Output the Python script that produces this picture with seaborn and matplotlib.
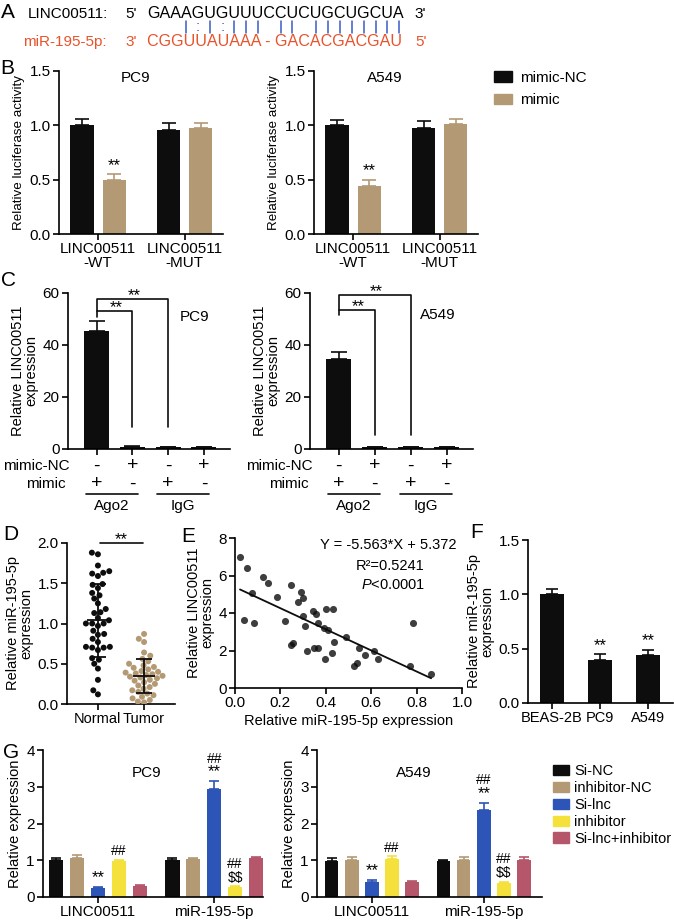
import numpy as np
import pandas as pd
import matplotlib
matplotlib.use("Agg")
import matplotlib.pyplot as plt
import matplotlib.transforms as mtrans
from matplotlib.patches import Patch
from matplotlib.lines import Line2D
from matplotlib.ticker import FormatStrFormatter
from matplotlib.textpath import TextToPath
from matplotlib.font_manager import FontProperties
import seaborn as sns

sns.set_style("ticks")
plt.rcParams["font.family"] = ["Liberation Sans", "DejaVu Sans"]
plt.rcParams.update({
    "text.color": "black", "axes.labelcolor": "black",
    "xtick.color": "black", "ytick.color": "black", "axes.edgecolor": "black",
    "axes.linewidth": 1.2, "xtick.major.width": 1.2, "ytick.major.width": 1.2,
    "xtick.major.size": 4, "ytick.major.size": 4,
    "xtick.labelsize": 11, "ytick.labelsize": 11, "axes.labelsize": 10.5,
    "xtick.major.pad": 2, "ytick.major.pad": 2, "axes.labelpad": 3,
    "mathtext.fontset": "custom", "mathtext.rm": "Liberation Sans",
    "mathtext.it": "Liberation Sans:italic",
})

BLACK = "#0d0d0d"
TAN = "#b39a74"
BLUE = "#2d55b8"
YELLOW = "#f4e13c"
ROSE = "#b5566a"
ORANGE = "#e8532b"
LINK = "#3b5bc4"

# ---- data ----
# A: binding site
linc_seq = "GAAAGUGUUUCCUCUGCUGCUA"
mir_seq = "CGGUUAUAAA - GACACGACGAU"
pair_marks = "   |:|:||| || ||||||||"

# B: luciferase
b_groups = ["LINC00511\n-WT", "LINC00511\n-MUT"]
b_treat = ["mimic-NC", "mimic"]
b_pc9 = [[1.00, 0.50], [0.96, 0.98]]
b_pc9_err = [[0.06, 0.05], [0.06, 0.04]]
b_a549 = [[1.00, 0.44], [0.98, 1.01]]
b_a549_err = [[0.05, 0.06], [0.06, 0.05]]

# C: RIP
c_conditions = ["Ago2 mimic", "Ago2 mimic-NC", "IgG mimic", "IgG mimic-NC"]
c_nc_row = ["-", "+", "-", "+"]
c_mimic_row = ["+", "-", "+", "-"]
c_pc9 = [45.3, 0.8, 0.7, 0.7]
c_pc9_err = [3.8, 0.2, 0.2, 0.2]
c_a549 = [34.6, 0.7, 0.7, 0.6]
c_a549_err = [2.7, 0.2, 0.2, 0.2]

# D: tissue expression
d_normal = [1.88, 1.86, 1.72, 1.65, 1.63, 1.62, 1.59, 1.49, 1.48, 1.44, 1.38, 1.35,
            1.31, 1.25, 1.18, 1.14, 1.13, 1.07, 1.04, 1.0, 1.0, 1.0, 0.97, 0.91,
            0.87, 0.86, 0.81, 0.77, 0.71, 0.71, 0.70, 0.70, 0.67, 0.57, 0.55, 0.50,
            0.44, 0.30, 0.17, 0.12]
d_tumor = [0.87, 0.81, 0.77, 0.64, 0.60, 0.56, 0.53, 0.50, 0.48, 0.46, 0.45, 0.43,
           0.41, 0.40, 0.39, 0.38, 0.37, 0.36, 0.35, 0.34, 0.33, 0.32, 0.30, 0.29,
           0.27, 0.25, 0.23, 0.21, 0.19, 0.17, 0.15, 0.13, 0.11, 0.09, 0.07, 0.05,
           0.03, 0.02]

# E: correlation
e_x = [0.022, 0.054, 0.125, 0.145, 0.246, 0.29, 0.30, 0.277, 0.075, 0.184,
       0.04, 0.085, 0.22, 0.30, 0.31, 0.343, 0.356, 0.40, 0.43, 0.365,
       0.39, 0.41, 0.246, 0.256, 0.318, 0.35, 0.365, 0.397, 0.428, 0.436,
       0.49, 0.547, 0.574, 0.524, 0.537, 0.613, 0.63, 0.771, 0.784, 0.864]
e_y = [6.99, 6.4, 5.9, 5.6, 5.5, 5.12, 4.8, 4.6, 5.06, 4.84,
       3.63, 3.47, 3.57, 3.84, 3.3, 4.1, 3.95, 4.2, 4.2, 3.47,
       3.2, 3.1, 2.28, 2.4, 1.97, 2.13, 2.13, 1.55, 1.87, 2.45,
       2.72, 2.13, 1.76, 1.17, 1.33, 1.97, 1.55, 1.17, 3.47, 0.75]

# F: cell lines
f_cells = ["BEAS-2B", "PC9", "A549"]
f_vals = [1.00, 0.40, 0.44]
f_err = [0.05, 0.05, 0.05]

# G: rescue
g_genes = ["LINC00511", "miR-195-5p"]
g_groups = ["Si-NC", "inhibitor-NC", "Si-lnc", "inhibitor", "Si-lnc+inhibitor"]
g_pc9 = [[1.00, 1.05, 0.25, 0.98, 0.29], [1.00, 1.03, 2.94, 0.27, 1.05]]
g_pc9_err = [[0.06, 0.09, 0.03, 0.04, 0.03], [0.07, 0.02, 0.22, 0.03, 0.05]]
g_a549 = [[0.97, 1.00, 0.41, 1.03, 0.41], [0.97, 1.00, 2.38, 0.38, 1.00]]
g_a549_err = [[0.08, 0.08, 0.06, 0.08, 0.02], [0.05, 0.10, 0.19, 0.04, 0.10]]

W, H = 674, 923
fig = plt.figure(figsize=(W / 100, H / 100), dpi=100)


def add_ax(x0, y0, x1, y1):
    return fig.add_axes([x0 / W, 1 - y1 / H, (x1 - x0) / W, (y1 - y0) / H])


def put(x, y, s, **kw):
    kw.setdefault("ha", "center")
    kw.setdefault("va", "center")
    if "fontproperties" not in kw:
        kw.setdefault("fontsize", 10.5)
    fig.text(x / W, 1 - y / H, s, **kw)


def style(ax, ylim, yticks, fmt=None):
    sns.despine(ax=ax)
    ax.set_ylim(ylim)
    ax.set_yticks(yticks)
    if fmt:
        ax.yaxis.set_major_formatter(FormatStrFormatter(fmt))
    ax.set_xlabel("")


def errbars(ax, bars, errs, colors, cap):
    for p, e, c in zip(bars, errs, colors):
        xc = p.get_x() + p.get_width() / 2
        ax.errorbar(xc, p.get_height(), yerr=[[0], [e]], fmt="none", ecolor=c,
                    elinewidth=1.2, capsize=cap, capthick=1.2, zorder=3)


def mark(ax, x, y, s, dy=1, fs=12):
    ax.annotate(s, (x, y), xytext=(0, dy), textcoords="offset points",
                ha="center", va="bottom", fontsize=fs, annotation_clip=False)


def grouped(ax, groups, hues, vals, errs, colors, width, gap, cap):
    rows = [(g, h, vals[i][j]) for i, g in enumerate(groups) for j, h in enumerate(hues)]
    df = pd.DataFrame(rows, columns=["group", "hue", "value"])
    sns.barplot(data=df, x="group", y="value", hue="hue", order=groups, hue_order=hues,
                palette=colors, width=width, gap=gap, errorbar=None, saturation=1,
                linewidth=0, legend=False, ax=ax)
    bars = sorted(ax.patches, key=lambda p: p.get_x())
    errbars(ax, bars, [e for r in errs for e in r], colors * len(groups), cap)
    return bars


def center(p):
    return p.get_x() + p.get_width() / 2


# ---- A ----
seq_fp = FontProperties(family="Liberation Sans", size=11.6)
ttp = TextToPath()


def text_px(s):
    return ttp.get_text_width_height_descent(s, seq_fp, ismath=False)[0] * 100 / 72


put(1, 12, "A", fontsize=15, ha="left")
put(28, 14, "LINC00511:", ha="left", fontsize=11)
put(23, 42, "miR-195-5p:", ha="left", fontsize=11, color=ORANGE)
put(125, 14, "5'", ha="left", fontsize=11)
put(125, 42, "3'", ha="left", fontsize=11, color=ORANGE)
put(147, 14, linc_seq, ha="left", fontproperties=seq_fp)
put(147, 42, mir_seq, ha="left", fontproperties=seq_fp, color=ORANGE)
end = 147 + max(text_px(linc_seq), text_px(mir_seq))
put(end + 11, 14, "3'", ha="left", fontsize=11)
put(end + 11, 42, "5'", ha="left", fontsize=11, color=ORANGE)
for i, m in enumerate(pair_marks):
    cx = 147 + text_px(linc_seq[:i]) + text_px(linc_seq[i]) / 2
    if m == "|":
        fig.add_artist(Line2D([cx / W] * 2, [1 - 21 / H, 1 - 33 / H], color=LINK, lw=1.1))
    elif m == ":":
        put(cx, 27, ":", fontsize=11, color=LINK)

# ---- B ----
put(0, 68, "B", fontsize=15, ha="left")
for x0, x1, vals, errs, title, tx in [(59, 223, b_pc9, b_pc9_err, "PC9", 136),
                                       (314, 478, b_a549, b_a549_err, "A549", 385)]:
    ax = add_ax(x0, 71, x1, 234)
    bars = grouped(ax, b_groups, b_treat, vals, errs, [BLACK, TAN], 0.74, 0.28, 5)
    mark(ax, center(bars[1]), vals[0][1] + errs[0][1], "**")
    ax.set_xlim(-0.45, 1.44)
    style(ax, (0, 1.5), [0, 0.5, 1.0, 1.5], "%.1f")
    ax.set_ylabel("Relative luciferase activity", fontsize=9.6)
    for t in ax.get_xticklabels():
        t.set_linespacing(1.0)
    put(tx, 78, title, fontsize=11)

fig.legend(handles=[Patch(color=BLACK, label=b_treat[0]), Patch(color=TAN, label=b_treat[1])],
           loc="upper left", bbox_to_anchor=(494 / W, 1 - 71 / H), frameon=False, fontsize=11,
           handlelength=1.2, handleheight=0.7, labelspacing=0.55, handletextpad=0.5,
           borderpad=0, borderaxespad=0)

# ---- C ----
put(1, 281, "C", fontsize=15, ha="left")
c_setup = [(68, 230, c_pc9, c_pc9_err, "PC9", 195, 317, 70,
            (53.0, 50.8, 57.7, 8.5)),
           (310, 473, c_a549, c_a549_err, "A549", 438, 315, 313,
            (53.5, 51.5, 59.2, 5.4))]
for x0, x1, vals, errs, title, tx, ty, lx, (lo, lo_l, hi, bot) in c_setup:
    ax = add_ax(x0, 293, x1, 449)
    df = pd.DataFrame({"cond": c_conditions, "value": vals})
    sns.barplot(data=df, x="cond", y="value", color=BLACK, width=0.7, saturation=1,
                linewidth=0, errorbar=None, ax=ax)
    bars = sorted(ax.patches, key=lambda p: p.get_x())
    errbars(ax, bars, errs, [BLACK] * 4, 6)
    ax.set_xticks(range(4))
    ax.set_xticklabels([""] * 4)
    ax.set_xlim(-0.8, 3.73)
    style(ax, (0, 60), [0, 20, 40, 60])
    ax.set_ylabel("Relative LINC00511\nexpression", linespacing=0.95)
    kw = dict(color=BLACK, lw=1.2, clip_on=False)
    ax.plot([0, 0, 1, 1], [lo_l, lo, lo, bot], **kw)
    ax.plot([0, 0, 2, 2], [lo, hi, hi, bot], **kw)
    mark(ax, 0.55, lo, "**", dy=-3)
    mark(ax, 1.05, hi, "**", dy=-3)
    put(tx, ty, title, fontsize=11)
    tr = mtrans.blended_transform_factory(ax.transData, fig.transFigure)
    for i in range(4):
        ax.text(i, 1 - 466 / H, c_nc_row[i], transform=tr, ha="center", va="center", fontsize=14)
        ax.text(i, 1 - 484 / H, c_mimic_row[i], transform=tr, ha="center", va="center", fontsize=14)
    for a, lab in [(0, "Ago2"), (2, "IgG")]:
        ax.plot([a - 0.3, a + 1.15], [1 - 494 / H] * 2, transform=tr, color=BLACK, lw=1.2, clip_on=False)
        ax.text(a + 0.42, 1 - 506 / H, lab, transform=tr, ha="center", va="center", fontsize=11)
    put(lx, 466, "mimic-NC", ha="right", fontsize=11)
    put(lx - 4, 484, "mimic", ha="right", fontsize=11)

# ---- D ----
put(3, 535, "D", fontsize=15, ha="left")
ax = add_ax(67, 543, 175, 704)
df = pd.DataFrame({"group": ["Normal"] * len(d_normal) + ["Tumor"] * len(d_tumor),
                   "value": d_normal + d_tumor})
sns.swarmplot(data=df, x="group", y="value", hue="group", palette=[BLACK, TAN],
              size=4.3, legend=False, warn_thresh=1, ax=ax)
for i, v in enumerate([d_normal, d_tumor]):
    m, s = np.mean(v), np.std(v, ddof=1)
    ax.hlines(m, i - 0.24, i + 0.24, color=BLACK, lw=1.3, zorder=4)
    ax.vlines(i, m - s, m + s, color=BLACK, lw=1.3, zorder=4)
    ax.hlines([m - s, m + s], i - 0.17, i + 0.17, color=BLACK, lw=1.3, zorder=4)
ax.plot([0.04, 0.98], [2.0, 2.0], color=BLACK, lw=1.2, clip_on=False)
mark(ax, 0.5, 2.0, "**", dy=-3)
ax.set_xlim(-0.67, 1.67)
style(ax, (0, 2.0), [0, 0.5, 1.0, 1.5, 2.0], "%.1f")
ax.tick_params(axis="x", labelsize=10.5)
ax.set_ylabel("Relative miR-195-5p\nexpression", linespacing=0.95)

# ---- E ----
put(181, 537, "E", fontsize=15, ha="left")
ax = add_ax(235, 538, 462, 688)
sns.regplot(x=e_x, y=e_y, ci=None, color=BLACK, ax=ax,
            scatter_kws=dict(s=26, linewidths=0),
            line_kws=dict(lw=1.3))
ax.set_xlim(0, 1)
ax.set_xticks([0, 0.2, 0.4, 0.6, 0.8, 1.0])
ax.xaxis.set_major_formatter(FormatStrFormatter("%.1f"))
style(ax, (0, 8), [0, 2, 4, 6, 8])
ax.set_xlabel("Relative miR-195-5p expression")
ax.set_ylabel("Relative LINC00511\nexpression", linespacing=0.95)
put(388, 545, "Y = -5.563*X + 5.372")
put(390, 566, "R²=0.5241")
put(393, 585, r"$P$<0.0001")

# ---- F ----
put(470, 533, "F", fontsize=15, ha="left")
ax = add_ax(528, 540, 673, 703)
sns.barplot(x=f_cells, y=f_vals, color=BLACK, width=0.5, saturation=1, linewidth=0,
            errorbar=None, ax=ax)
bars = sorted(ax.patches, key=lambda p: p.get_x())
errbars(ax, bars, f_err, [BLACK] * 3, 4.3)
for p, v, e in list(zip(bars, f_vals, f_err))[1:]:
    mark(ax, center(p), v + e, "**")
ax.set_xlim(-0.5, 2.52)
style(ax, (0, 1.5), [0, 0.5, 1.0, 1.5], "%.1f")
ax.tick_params(axis="x", labelsize=10.5)
ax.set_ylabel("Relative miR-195-5p\nexpression", linespacing=0.95)

# ---- G ----
put(3, 752, "G", fontsize=15, ha="left")
g_colors = [BLACK, TAN, BLUE, YELLOW, ROSE]
for x0, x1, vals, errs, title, tx, xl in [(43, 263, g_pc9, g_pc9_err, "PC9", 147, (-0.474, 1.42)),
                                          (317, 542, g_a549, g_a549_err, "A549", 414, (-0.49, 1.52))]:
    ax = add_ax(x0, 750, x1, 897)
    bars = grouped(ax, g_genes, g_groups, vals, errs, g_colors, 0.9, 0.32, 3.6)
    top = lambda k, j: vals[k][j] + errs[k][j]
    mark(ax, center(bars[2]), top(0, 2), "**")
    mark(ax, center(bars[3]), top(0, 3), "##", fs=10)
    mark(ax, center(bars[7]), top(1, 2), "**")
    mark(ax, center(bars[7]), top(1, 2), "##", dy=11, fs=10)
    mark(ax, center(bars[8]), top(1, 3), r"\$\$", fs=10)
    mark(ax, center(bars[8]), top(1, 3), "##", dy=11, fs=10)
    ax.set_xlim(*xl)
    style(ax, (0, 4), [0, 1, 2, 3, 4])
    ax.set_ylabel("Relative expression")
    put(tx, 773, title, fontsize=11)

fig.legend(handles=[Patch(color=c, label=l) for c, l in zip(g_colors, g_groups)],
           loc="upper left", bbox_to_anchor=(553 / W, 1 - 764 / H), frameon=False, fontsize=10.5,
           handlelength=1.1, handleheight=0.7, labelspacing=0.2, handletextpad=0.35,
           borderpad=0, borderaxespad=0)

fig.savefig("out.png", dpi=100)
